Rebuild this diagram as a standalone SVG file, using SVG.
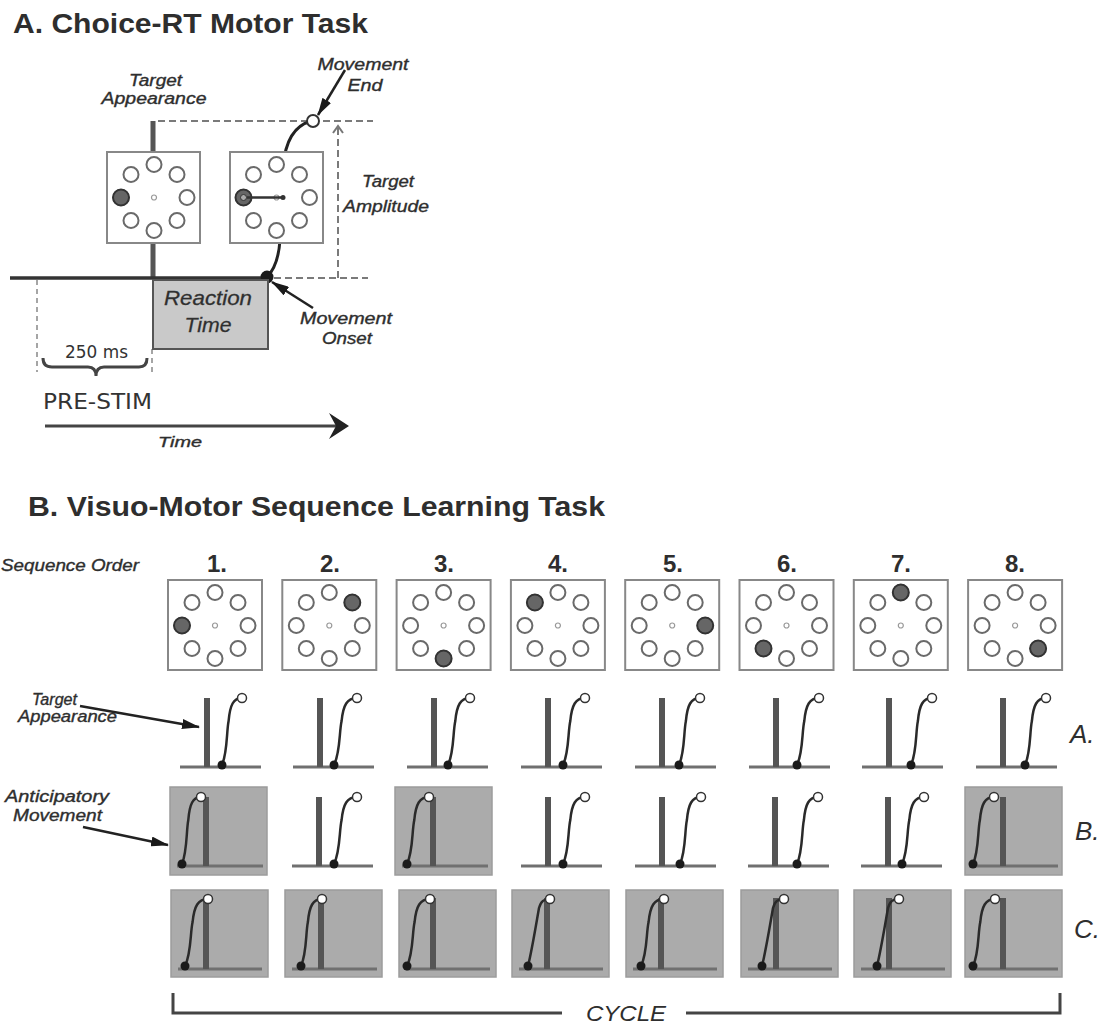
<svg xmlns="http://www.w3.org/2000/svg" xmlns:xlink="http://www.w3.org/1999/xlink" width="1105" height="1024" viewBox="0 0 1105 1024">
<style>
.t{font-family:"Liberation Sans",Arial,sans-serif;fill:#2e2e2e}
.it{font-style:italic;font-size:16px;stroke:#2e2e2e;stroke-width:0.35}
.ttl{font-weight:bold;font-size:28px}
.num{font-weight:bold;font-size:24px;text-anchor:middle}
.mid{text-anchor:middle}
.dj{font-family:"DejaVu Sans",Verdana,sans-serif;fill:#333}
.box{fill:#fff;stroke:#888;stroke-width:2}
.gbox{fill:#ababab;stroke:#9c9c9c;stroke-width:1.5}
.bar{fill:#555}
.base{stroke:#707070;stroke-width:2.8}
.crv{fill:none;stroke:#2a2a2a;stroke-width:2.5}
.dot{fill:#1a1a1a}
.end{fill:#fff;stroke:#333;stroke-width:1.5}
.dash{fill:none;stroke:#7a7a7a;stroke-width:2;stroke-dasharray:7 4}
.dash2{fill:none;stroke:#888;stroke-width:1.5;stroke-dasharray:5 4}
.e{fill:#fff;stroke:#6a6a6a;stroke-width:2}
.f{fill:#666;stroke:#333;stroke-width:2}
.c0{fill:none;stroke:#999;stroke-width:1.2}
.arr{stroke:#222;stroke-width:2.5;fill:none}
.brk{stroke:#444;stroke-width:3;fill:none}
</style>
<defs>
<marker id="ah" viewBox="0 0 18 10" refX="17" refY="5" markerWidth="18" markerHeight="10" markerUnits="userSpaceOnUse" orient="auto"><path d="M0,0 L18,5 L0,10 z" fill="#1a1a1a"/></marker>
<g id="ring">
<circle class="e" cx="0" cy="-33" r="7.5"/>
<circle class="e" cx="23" cy="-23" r="7.5"/>
<circle class="e" cx="33" cy="0" r="7.5"/>
<circle class="e" cx="23" cy="23" r="7.5"/>
<circle class="e" cx="0" cy="33" r="7.5"/>
<circle class="e" cx="-23" cy="23" r="7.5"/>
<circle class="e" cx="-33" cy="0" r="7.5"/>
<circle class="e" cx="-23" cy="-23" r="7.5"/>
<circle class="c0" cx="0" cy="0" r="2.5"/>
</g>
</defs>
<rect width="1105" height="1024" fill="#fff"/>

<!-- ===== Part A ===== -->
<text class="t ttl" x="13" y="33" textLength="355" lengthAdjust="spacingAndGlyphs">A. Choice-RT Motor Task</text>

<g id="connectors-A">
<path class="dash" d="M158,121 H373"/>
<path class="dash" d="M338,128 V278 M274,278 H368"/>
<polyline points="333,133 338,126 343,133" fill="none" stroke="#777" stroke-width="2"/>
<path class="dash2" d="M37,280 V372 M152,349 V372"/>
<rect x="150.5" y="121" width="5" height="157" class="bar"/>
<path d="M267,277 C276,268 279,255 280,240 L283,168 C285,140 295,125 312,121" fill="none" stroke="#222" stroke-width="3"/>
<line x1="345" y1="70" x2="318" y2="115" class="arr" marker-end="url(#ah)"/>
<line x1="313" y1="308" x2="272" y2="282" class="arr" marker-end="url(#ah)"/>
<line x1="45" y1="426" x2="336" y2="426" stroke="#444" stroke-width="3"/>
<path d="M349,426 L329,413 L336,426 L329,439 Z" fill="#222"/>
<path class="brk" d="M43,358 Q43,367 52,367 L88,367 Q96,367 96,376 Q96,367 104,367 L139,367 Q147,367 147,358" stroke="#222"/>
</g>

<g id="targetA1">
<rect class="box" x="107" y="152" width="93" height="91"/>
<use xlink:href="#ring" href="#ring" x="154" y="197.5"/>
<circle class="f" cx="121" cy="197.5" r="8"/>
</g>
<g id="targetA2">
<rect class="box" x="230" y="152" width="93" height="91"/>
<use xlink:href="#ring" href="#ring" x="276.5" y="197.5"/>
<circle class="f" cx="243.5" cy="197.5" r="8"/>
<circle cx="243.5" cy="197.5" r="3" fill="#aaa" stroke="#333" stroke-width="1"/>
<line x1="247" y1="197.5" x2="282" y2="197.5" stroke="#333" stroke-width="2.5"/>
<circle cx="283" cy="197.5" r="2.5" fill="#333"/>
</g>

<g id="timeline">
<line x1="10" y1="278" x2="267" y2="278" stroke="#333" stroke-width="3.5"/>
<circle cx="267" cy="277" r="6.5" class="dot"/>
<circle cx="313" cy="121" r="6" fill="#fff" stroke="#333" stroke-width="2"/>
</g>

<g id="reaction">
<rect x="153" y="280" width="115" height="69" fill="#c9c9c9" stroke="#555" stroke-width="2"/>
<text class="t mid" style="font-style:italic;font-size:20px;stroke:#3a3a3a;stroke-width:0.3" x="208" y="305" textLength="88" lengthAdjust="spacingAndGlyphs">Reaction</text>
<text class="t mid" style="font-style:italic;font-size:20px;stroke:#3a3a3a;stroke-width:0.3" x="208" y="332" textLength="47" lengthAdjust="spacingAndGlyphs">Time</text>
</g>

<g id="labelsA">
<text class="t it mid" x="155.5" y="86" textLength="53" lengthAdjust="spacingAndGlyphs">Target</text>
<text class="t it mid" x="154" y="104" textLength="105" lengthAdjust="spacingAndGlyphs">Appearance</text>
<text class="t it mid" x="363" y="70" textLength="91" lengthAdjust="spacingAndGlyphs">Movement</text>
<text class="t it mid" x="365" y="91" textLength="35" lengthAdjust="spacingAndGlyphs">End</text>
<text class="t it mid" x="388" y="187" textLength="52" lengthAdjust="spacingAndGlyphs">Target</text>
<text class="t it mid" x="386" y="212" textLength="86" lengthAdjust="spacingAndGlyphs">Amplitude</text>
<text class="t it mid" x="346" y="324" textLength="92" lengthAdjust="spacingAndGlyphs">Movement</text>
<text class="t it mid" x="347" y="344" textLength="50" lengthAdjust="spacingAndGlyphs">Onset</text>
<text class="dj" style="font-size:17px" x="65" y="358" textLength="63" lengthAdjust="spacingAndGlyphs">250 ms</text>
<text class="dj" style="font-size:22px" x="43" y="409" textLength="109" lengthAdjust="spacingAndGlyphs">PRE-STIM</text>
<text class="t it mid" style="font-size:15px" x="180" y="447" textLength="44" lengthAdjust="spacingAndGlyphs">Time</text>
</g>

<!-- ===== Part B ===== -->
<text class="t ttl" x="28" y="516" textLength="577" lengthAdjust="spacingAndGlyphs">B. Visuo-Motor Sequence Learning Task</text>
<text class="t it" x="1" y="571" textLength="138" lengthAdjust="spacingAndGlyphs">Sequence Order</text>

<g id="seq1"><text class="t num" x="217" y="572">1.</text><rect class="box" x="168" y="580" width="94" height="90"/><use xlink:href="#ring" href="#ring" x="215" y="625.5"/><circle class="f" cx="182" cy="625.5" r="8"/></g>
<g id="seq2"><text class="t num" x="330" y="572">2.</text><rect class="box" x="282.3" y="580" width="94" height="90"/><use xlink:href="#ring" href="#ring" x="329.3" y="625.5"/><circle class="f" cx="352.3" cy="602.5" r="8"/></g>
<g id="seq3"><text class="t num" x="444" y="572">3.</text><rect class="box" x="396.6" y="580" width="94" height="90"/><use xlink:href="#ring" href="#ring" x="443.6" y="625.5"/><circle class="f" cx="443.6" cy="658.5" r="8"/></g>
<g id="seq4"><text class="t num" x="558" y="572">4.</text><rect class="box" x="510.9" y="580" width="94" height="90"/><use xlink:href="#ring" href="#ring" x="557.9" y="625.5"/><circle class="f" cx="534.9" cy="602.5" r="8"/></g>
<g id="seq5"><text class="t num" x="673" y="572">5.</text><rect class="box" x="625.2" y="580" width="94" height="90"/><use xlink:href="#ring" href="#ring" x="672.2" y="625.5"/><circle class="f" cx="705.2" cy="625.5" r="8"/></g>
<g id="seq6"><text class="t num" x="787" y="572">6.</text><rect class="box" x="739.5" y="580" width="94" height="90"/><use xlink:href="#ring" href="#ring" x="786.5" y="625.5"/><circle class="f" cx="763.5" cy="648.5" r="8"/></g>
<g id="seq7"><text class="t num" x="901" y="572">7.</text><rect class="box" x="853.8" y="580" width="94" height="90"/><use xlink:href="#ring" href="#ring" x="900.8" y="625.5"/><circle class="f" cx="900.8" cy="592.5" r="8"/></g>
<g id="seq8"><text class="t num" x="1015" y="572">8.</text><rect class="box" x="968.1" y="580" width="94" height="90"/><use xlink:href="#ring" href="#ring" x="1015.1" y="625.5"/><circle class="f" cx="1038.1" cy="648.5" r="8"/></g>

<!-- Row A -->
<g id="rowA">
<line class="base" x1="180" y1="767" x2="261" y2="767"/><rect class="bar" x="204" y="698" width="6" height="69"/><path class="crv" d="M222,765 c5.6,-13 4.4,-33 6.6,-44 c1.4,-16 4.8,-23 13.4,-23"/><circle class="dot" cx="222" cy="765" r="4.5"/><circle class="end" cx="242" cy="698" r="4.5"/>
<line class="base" x1="293" y1="767" x2="374" y2="767"/><rect class="bar" x="317" y="698" width="6" height="69"/><path class="crv" d="M334,765 c6.4,-13 5.1,-33 7.6,-44 c1.6,-16 5.5,-23 15.4,-23"/><circle class="dot" cx="334" cy="765" r="4.5"/><circle class="end" cx="357" cy="698" r="4.5"/>
<line class="base" x1="407" y1="767" x2="488" y2="767"/><rect class="bar" x="431" y="698" width="6" height="69"/><path class="crv" d="M448,765 c6.2,-13 4.8,-33 7.3,-44 c1.5,-16 5.3,-23 14.7,-23"/><circle class="dot" cx="448" cy="765" r="4.5"/><circle class="end" cx="470" cy="698" r="4.5"/>
<line class="base" x1="521" y1="767" x2="602" y2="767"/><rect class="bar" x="545" y="698" width="6" height="69"/><path class="crv" d="M563,765 c6.2,-13 4.8,-33 7.3,-44 c1.5,-16 5.3,-23 14.7,-23"/><circle class="dot" cx="563" cy="765" r="4.5"/><circle class="end" cx="585" cy="698" r="4.5"/>
<line class="base" x1="635" y1="767" x2="716" y2="767"/><rect class="bar" x="659" y="698" width="6" height="69"/><path class="crv" d="M679,765 c5.9,-13 4.6,-33 6.9,-44 c1.5,-16 5,-23 14.1,-23"/><circle class="dot" cx="679" cy="765" r="4.5"/><circle class="end" cx="700" cy="698" r="4.5"/>
<line class="base" x1="749" y1="767" x2="830" y2="767"/><rect class="bar" x="773" y="698" width="6" height="69"/><path class="crv" d="M797,765 c6.2,-13 4.8,-33 7.3,-44 c1.5,-16 5.3,-23 14.7,-23"/><circle class="dot" cx="797" cy="765" r="4.5"/><circle class="end" cx="819" cy="698" r="4.5"/>
<line class="base" x1="862" y1="767" x2="943" y2="767"/><rect class="bar" x="886" y="698" width="6" height="69"/><path class="crv" d="M911,765 c5.9,-13 4.6,-33 6.9,-44 c1.5,-16 5,-23 14.1,-23"/><circle class="dot" cx="911" cy="765" r="4.5"/><circle class="end" cx="932" cy="698" r="4.5"/>
<line class="base" x1="976" y1="767" x2="1057" y2="767"/><rect class="bar" x="1000" y="698" width="6" height="69"/><path class="crv" d="M1025,765 c5.9,-13 4.6,-33 6.9,-44 c1.5,-16 5,-23 14.1,-23"/><circle class="dot" cx="1025" cy="765" r="4.5"/><circle class="end" cx="1046" cy="698" r="4.5"/>
</g>

<!-- Row B -->
<g id="rowB">
<rect class="gbox" x="170" y="787" width="97" height="88"/>
<line class="base" x1="177" y1="866" x2="263" y2="866"/><rect class="bar" x="203" y="797" width="6" height="69"/><path class="crv" d="M182,864 c5.3,-13 4.2,-33 6.3,-44 c1.3,-16 4.6,-23 12.7,-23"/><circle class="dot" cx="182" cy="864" r="4.5"/><circle class="end" cx="201" cy="797" r="4.5"/>
<line class="base" x1="292" y1="866" x2="373" y2="866"/><rect class="bar" x="316" y="797" width="6" height="69"/><path class="crv" d="M334,864 c6.4,-13 5.1,-33 7.6,-44 c1.6,-16 5.5,-23 15.4,-23"/><circle class="dot" cx="334" cy="864" r="4.5"/><circle class="end" cx="357" cy="797" r="4.5"/>
<rect class="gbox" x="395" y="787" width="97" height="88"/>
<line class="base" x1="402" y1="866" x2="488" y2="866"/><rect class="bar" x="430" y="797" width="6" height="69"/><path class="crv" d="M407,864 c6.2,-13 4.8,-33 7.3,-44 c1.5,-16 5.3,-23 14.7,-23"/><circle class="dot" cx="407" cy="864" r="4.5"/><circle class="end" cx="429" cy="797" r="4.5"/>
<line class="base" x1="521" y1="866" x2="602" y2="866"/><rect class="bar" x="545" y="797" width="6" height="69"/><path class="crv" d="M563,864 c6.2,-13 4.8,-33 7.3,-44 c1.5,-16 5.3,-23 14.7,-23"/><circle class="dot" cx="563" cy="864" r="4.5"/><circle class="end" cx="585" cy="797" r="4.5"/>
<line class="base" x1="635" y1="866" x2="716" y2="866"/><rect class="bar" x="659" y="797" width="6" height="69"/><path class="crv" d="M680,864 c5.9,-13 4.6,-33 6.9,-44 c1.5,-16 5,-23 14.1,-23"/><circle class="dot" cx="680" cy="864" r="4.5"/><circle class="end" cx="701" cy="797" r="4.5"/>
<line class="base" x1="748" y1="866" x2="829" y2="866"/><rect class="bar" x="772" y="797" width="6" height="69"/><path class="crv" d="M797,864 c5.9,-13 4.6,-33 6.9,-44 c1.5,-16 5,-23 14.1,-23"/><circle class="dot" cx="797" cy="864" r="4.5"/><circle class="end" cx="818" cy="797" r="4.5"/>
<line class="base" x1="861" y1="866" x2="942" y2="866"/><rect class="bar" x="885" y="797" width="6" height="69"/><path class="crv" d="M902,864 c6.2,-13 4.8,-33 7.3,-44 c1.5,-16 5.3,-23 14.7,-23"/><circle class="dot" cx="902" cy="864" r="4.5"/><circle class="end" cx="924" cy="797" r="4.5"/>
<rect class="gbox" x="965" y="787" width="97" height="88"/>
<line class="base" x1="969" y1="866" x2="1058" y2="866"/><rect class="bar" x="1000" y="797" width="6" height="69"/><path class="crv" d="M973,864 c5.9,-13 4.6,-33 6.9,-44 c1.5,-16 5,-23 14.1,-23"/><circle class="dot" cx="973" cy="864" r="4.5"/><circle class="end" cx="994" cy="797" r="4.5"/>
</g>

<!-- Row C -->
<g id="rowC">
<rect class="gbox" x="171" y="890" width="97" height="87"/>
<line class="base" x1="178" y1="969" x2="262" y2="969"/><rect class="bar" x="203" y="898" width="6" height="71"/><path class="crv" d="M185,966 c6.4,-13 5.1,-33 7.6,-44 c1.6,-16 5.5,-23 15.4,-23"/><circle class="dot" cx="185" cy="966" r="4.5"/><circle class="end" cx="208" cy="899" r="4.5"/>
<rect class="gbox" x="285" y="890" width="97" height="87"/>
<line class="base" x1="292" y1="969" x2="377" y2="969"/><rect class="bar" x="318" y="898" width="6" height="71"/><path class="crv" d="M301,966 c5.9,-13 4.6,-33 6.9,-44 c1.5,-16 5,-23 14.1,-23"/><circle class="dot" cx="301" cy="966" r="4.5"/><circle class="end" cx="322" cy="899" r="4.5"/>
<rect class="gbox" x="399" y="890" width="97" height="87"/>
<line class="base" x1="406" y1="969" x2="490" y2="969"/><rect class="bar" x="430" y="898" width="6" height="71"/><path class="crv" d="M407,966 c6.4,-13 5.1,-33 7.6,-44 c1.6,-16 5.5,-23 15.4,-23"/><circle class="dot" cx="407" cy="966" r="4.5"/><circle class="end" cx="430" cy="899" r="4.5"/>
<rect class="gbox" x="512" y="890" width="97" height="87"/>
<line class="base" x1="519" y1="969" x2="603" y2="969"/><rect class="bar" x="544" y="898" width="6" height="71"/><path class="crv" d="M528,966 C532,950 536,925 539,908 C541,901 544,899 550,899"/><circle class="dot" cx="528" cy="966" r="4.5"/><circle class="end" cx="550" cy="899" r="4.5"/>
<rect class="gbox" x="626" y="890" width="97" height="87"/>
<line class="base" x1="633" y1="969" x2="717" y2="969"/><rect class="bar" x="658" y="898" width="6" height="71"/><path class="crv" d="M641,966 c6.4,-13 5.1,-33 7.6,-44 c1.6,-16 5.5,-23 15.4,-23"/><circle class="dot" cx="641" cy="966" r="4.5"/><circle class="end" cx="664" cy="899" r="4.5"/>
<rect class="gbox" x="741" y="890" width="97" height="87"/>
<line class="base" x1="748" y1="969" x2="832" y2="969"/><rect class="bar" x="773" y="898" width="6" height="71"/><path class="crv" d="M762,966 C766,950 770,925 773,908 C775,901 778,899 784,899"/><circle class="dot" cx="762" cy="966" r="4.5"/><circle class="end" cx="784" cy="899" r="4.5"/>
<rect class="gbox" x="854" y="890" width="97" height="87"/>
<line class="base" x1="861" y1="969" x2="945" y2="969"/><rect class="bar" x="886" y="898" width="6" height="71"/><path class="crv" d="M877,966 C881,950 885,925 888,908 C890,901 893,899 899,899"/><circle class="dot" cx="877" cy="966" r="4.5"/><circle class="end" cx="899" cy="899" r="4.5"/>
<rect class="gbox" x="965" y="890" width="97" height="87"/>
<line class="base" x1="971" y1="969" x2="1058" y2="969"/><rect class="bar" x="1000" y="898" width="6" height="71"/><path class="crv" d="M973,966 c6.2,-13 4.8,-33 7.3,-44 c1.5,-16 5.3,-23 14.7,-23"/><circle class="dot" cx="973" cy="966" r="4.5"/><circle class="end" cx="995" cy="899" r="4.5"/>
</g>

<g id="connectors-B">
<line x1="80" y1="706" x2="199" y2="727" class="arr" marker-end="url(#ah)"/>
<line x1="83" y1="827" x2="168" y2="845" class="arr" marker-end="url(#ah)"/>
<path class="brk" d="M173,993 V1013 H562 M686,1013 H1060 V993"/>
</g>

<g id="labelsB">
<text class="t it" x="32" y="705" textLength="45" lengthAdjust="spacingAndGlyphs">Target</text>
<text class="t it" x="18" y="722" textLength="99" lengthAdjust="spacingAndGlyphs">Appearance</text>
<text class="t it" x="5" y="802" textLength="104" lengthAdjust="spacingAndGlyphs">Anticipatory</text>
<text class="t it" x="13" y="821" textLength="89" lengthAdjust="spacingAndGlyphs">Movement</text>
<text class="t" style="font-style:italic;font-size:26px" x="1070" y="743">A.</text>
<text class="t" style="font-style:italic;font-size:26px" x="1075" y="840">B.</text>
<text class="t" style="font-style:italic;font-size:26px" x="1074" y="938">C.</text>
<text class="t mid" style="font-style:italic;font-size:22px" x="626" y="1021" textLength="80" lengthAdjust="spacingAndGlyphs">CYCLE</text>
</g>
</svg>
